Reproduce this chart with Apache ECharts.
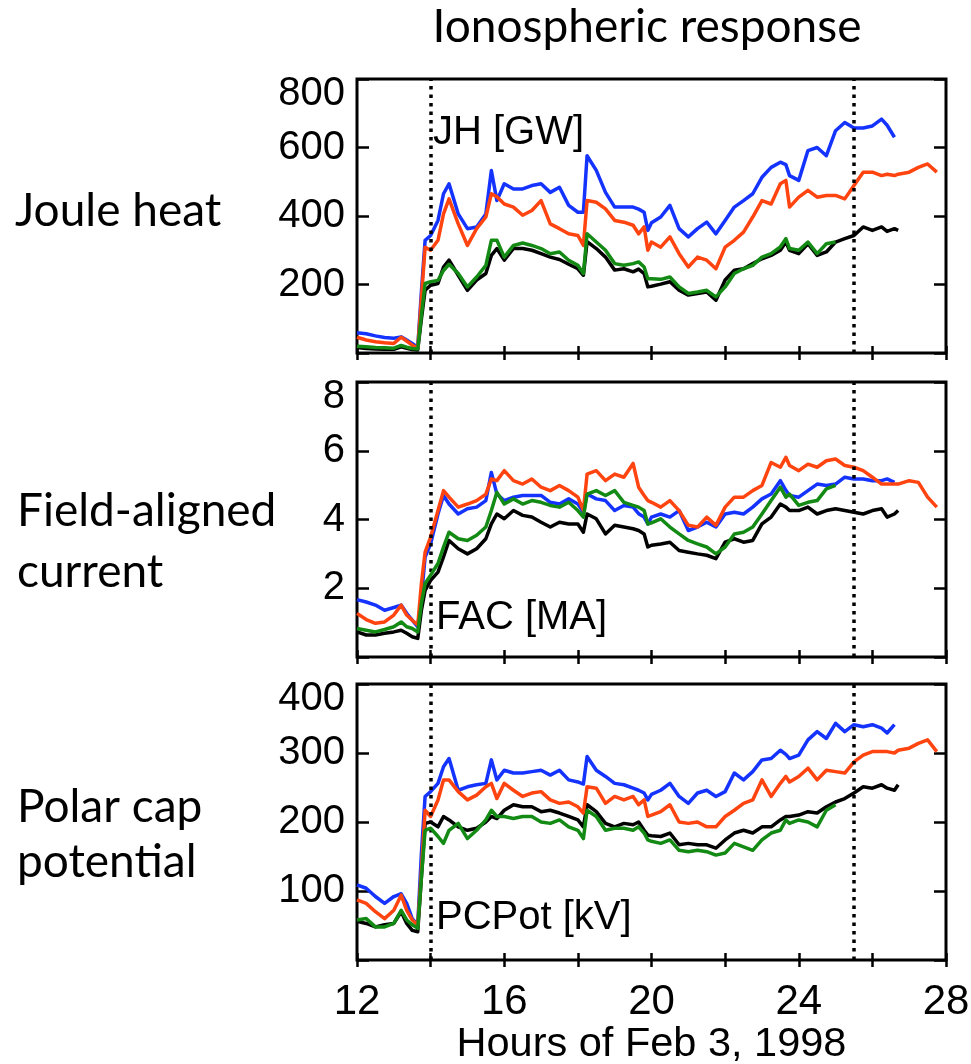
<!DOCTYPE html>
<html><head><meta charset="utf-8">
<script src="https://cdn.jsdelivr.net/npm/echarts@6/dist/echarts.min.js"></script>
<style>html,body{margin:0;padding:0;background:#fff}#c{width:971px;height:1064px}</style>
</head><body><div id="c"></div>
<script>
// Time grid (hours of Feb 3, 1998)
const T = [12,12.25,12.5,12.75,13,13.2,13.35,13.5,13.65,13.75,13.85,14,14.2,14.35,14.5,14.75,15,15.25,15.5,15.65,15.8,16,16.25,16.5,16.75,17,17.25,17.5,17.75,18,18.15,18.25,18.5,18.75,19,19.25,19.5,19.65,19.8,19.9,20,20.25,20.5,20.75,21,21.25,21.5,21.75,22,22.25,22.5,22.75,23,23.25,23.5,23.65,23.75,24,24.25,24.5,24.75,25,25.25,25.5,25.75,26,26.25,26.4,26.6,26.7,27,27.25,27.5,27.75];

// Joule heat [GW]
const jhBlue  = [59,56,50,45,43,47,38,28,16,180,329,343,387,465,494,406,363,368,406,533,445,494,479,479,489,494,469,484,431,411,411,576,533,469,426,426,426,420,411,358,380,397,431,363,339,363,382,348,387,426,445,465,513,542,557,550,518,504,591,600,576,649,673,657,657,663,683,665,630];
const jhRed   = [46,38,33,30,28,46,35,23,14,160,309,300,329,406,450,377,314,363,397,465,456,435,426,402,416,445,377,363,348,343,314,445,440,421,387,382,373,348,368,300,324,309,339,290,251,280,271,246,309,329,353,397,445,435,494,504,426,455,475,455,460,460,450,489,528,528,518,522,518,522,528,542,552,528];
const jhGreen = [20,18,16,15,14,22,17,13,12,110,203,208,212,241,259,232,193,222,256,329,329,280,314,321,314,305,290,295,271,256,232,348,324,300,261,256,261,266,251,217,217,215,222,193,174,178,183,164,193,232,246,256,280,290,310,334,305,300,324,290,319,324];
const jhBlack = [16,13,12,11,11,18,14,10,9,100,183,198,203,251,271,227,183,213,232,285,305,271,305,305,300,290,280,273,259,246,227,325,305,280,242,246,237,245,232,193,195,201,208,183,169,174,178,154,213,242,246,261,275,285,300,324,300,290,319,285,295,324,334,343,368,358,368,355,363,358];

// Field-aligned current [MA]
const facBlue  = [1.67,1.60,1.51,1.36,1.44,1.51,1.27,1.07,0.88,1.75,2.91,3.29,4.16,4.70,4.45,4.16,4.31,4.36,4.55,5.37,4.74,4.55,4.65,4.70,4.70,4.70,4.50,4.45,4.60,4.45,4.21,4.74,4.60,4.55,4.26,4.41,4.36,4.17,4.07,3.87,4.07,4.16,4.07,4.26,3.68,3.78,3.92,3.78,4.16,4.21,4.16,4.36,4.60,4.74,5.13,4.85,4.70,4.65,4.84,5.03,4.99,5.03,5.23,5.18,5.18,5.13,5.13,5.18,5.08];
const facRed   = [1.27,1.09,0.98,1.02,1.22,1.51,1.22,1.07,0.93,2.14,3.05,3.49,4.26,4.84,4.65,4.36,4.45,4.55,4.74,5.18,5.13,5.42,5.13,5.03,5.18,4.94,4.84,4.99,4.84,4.65,4.26,5.32,5.42,5.13,5.32,5.23,5.63,4.94,4.70,4.55,4.50,4.36,4.55,4.26,3.83,3.78,4.07,3.83,4.36,4.65,4.65,4.84,4.99,5.66,5.52,5.81,5.57,5.42,5.61,5.52,5.71,5.76,5.57,5.52,5.42,5.23,5.03,5.03,5.03,5.03,5.13,5.08,4.65,4.36];
const facGreen = [0.83,0.78,0.73,0.80,0.88,1.02,0.88,0.83,0.73,1.56,2.14,2.38,2.72,3.20,3.63,3.44,3.39,3.54,3.78,4.26,4.79,4.45,4.60,4.45,4.55,4.50,4.41,4.36,4.50,4.26,4.07,4.74,4.84,4.70,4.84,4.50,4.41,4.36,4.26,3.87,3.90,4.02,3.78,3.58,3.39,3.29,3.20,3.00,3.20,3.58,3.63,3.78,4.16,4.55,4.94,4.65,4.74,4.41,4.50,4.55,4.89,4.99];
const facBlack = [0.73,0.64,0.64,0.69,0.73,0.78,0.69,0.59,0.54,1.36,1.94,2.23,2.47,2.91,3.39,3.15,3.00,3.15,3.44,3.87,4.16,4.02,4.26,4.12,4.07,3.92,3.78,3.92,3.87,3.87,3.63,4.16,4.02,3.58,3.83,3.78,3.73,3.68,3.58,3.20,3.25,3.29,3.34,3.10,3.05,3.00,2.96,2.86,3.34,3.44,3.34,3.39,3.87,4.07,4.45,4.36,4.26,4.26,4.36,4.16,4.26,4.31,4.26,4.21,4.16,4.26,4.31,4.07,4.16,4.26];

// Polar cap potential [kV]
const pcBlue  = [109,104,92,82,92,96,82,60,51,155,237,244,256,280,292,246,251,254,256,290,261,275,271,271,273,275,268,275,261,258,255,295,275,266,256,254,249,246,242,232,240,246,256,237,227,242,246,237,244,271,261,273,290,292,304,298,292,297,319,331,321,343,331,341,338,341,336,329,341];
const pcRed   = [87,82,70,60,72,94,72,58,51,130,217,208,232,261,261,244,232,239,251,256,234,256,246,237,242,244,232,227,229,222,213,251,249,227,237,232,237,225,232,208,210,215,225,200,198,200,193,193,208,217,227,232,261,237,256,266,258,266,278,261,275,273,271,287,297,302,302,302,300,304,307,314,319,302];
const pcGreen = [58,60,48,48,53,72,58,51,46,120,188,191,179,169,188,198,176,188,203,217,208,208,205,208,208,200,198,203,193,188,176,217,208,188,191,191,188,193,184,174,172,169,174,159,157,159,157,152,155,169,164,159,174,184,188,203,198,203,200,193,217,225];
const pcBlack = [56,53,48,51,53,70,53,43,41,120,198,200,193,208,203,193,188,191,200,208,205,217,225,222,222,215,217,213,208,203,193,225,215,198,193,198,196,200,188,181,180,179,184,167,169,167,167,162,174,184,188,184,193,193,203,208,208,210,215,213,222,229,234,242,251,249,254,249,246,254];

const xTickLabels = [12,16,20,24,28];
const vLines = [14, 25.5];
const panelNames = ['JH [GW]','FAC [MA]','PCPot [kV]'];
const rowLabels = [['Joule heat'],['Field-aligned','current'],['Polar cap','potential']];
const yMax = [800, 8, 400];
const yStep = [200, 2, 100];

const COLORS = {black:'#000000', blue:'#1433ff', red:'#ff4410', green:'#138a13'};
const panelSeries = [
  {black:jhBlack, blue:jhBlue, red:jhRed, green:jhGreen},
  {black:facBlack, blue:facBlue, red:facRed, green:facGreen},
  {black:pcBlack, blue:pcBlue, red:pcRed, green:pcGreen}
];

const AX = 'Liberation Sans, Arial, Helvetica, sans-serif';
const TX = 'Lato, Open Sans, sans-serif';
const grids = [
  {left:357, top:79, width:589, height:274},
  {left:357, top:382, width:589, height:275},
  {left:357, top:684, width:589, height:276}
];

const xAxes = [], yAxes = [], series = [];
grids.forEach((g, i) => {
  g.show = true; g.borderColor = '#000'; g.borderWidth = 3; g.backgroundColor = 'transparent';
  g.containLabel = false; g.outerBoundsMode = 'none';
  const base = {type:'value', gridIndex:i, min:12, max:28, interval:2,
    axisLine:{show:false}, splitLine:{show:false},
    axisTick:{show:true, inside:true, length:7, lineStyle:{color:'#000', width:2.5}}};
  xAxes.push(Object.assign({}, base, {position:'bottom',
    axisLabel:{show:i===2, margin:21, color:'#000', fontFamily:AX, fontSize:42,
      formatter: v => xTickLabels.includes(v) ? String(v) : ''},
    name: i===2 ? 'Hours of Feb 3, 1998' : '', nameLocation:'middle', nameGap:51,
    nameTextStyle:{color:'#000', fontFamily:AX, fontSize:41.5}}));
  xAxes.push(Object.assign({}, base, {position:'top', axisLabel:{show:false}}));
  const m = yMax[i];
  const ybase = {type:'value', gridIndex:i, min:0, max:m, interval:yStep[i],
    axisLine:{show:false}, splitLine:{show:false},
    axisTick:{show:true, inside:true, length:12, lineStyle:{color:'#000', width:2.5}}};
  yAxes.push(Object.assign({}, ybase, {position:'left',
    axisLabel:{show:true, margin:12, formatter: v => v===0 ? '' : (v===m ? '{t|'+v+'}' : '{n|'+v+'}'),
      rich:{t:{fontSize:40, fontFamily:AX, color:'#000', padding:[30,0,0,0]},
            n:{fontSize:40, fontFamily:AX, color:'#000'}}}}));
  yAxes.push(Object.assign({}, ybase, {position:'right', axisLabel:{show:false}}));
  const ps = panelSeries[i];
  ['black','blue','red','green'].forEach((k, j) => {
    const s = {type:'line', xAxisIndex:2*i, yAxisIndex:2*i, showSymbol:false, symbol:'none',
      data: ps[k].map((v, n) => [T[n], v]), lineStyle:{color:COLORS[k], width:3.5, join:'round'}, itemStyle:{color:COLORS[k]},
      animation:false, z:2+j};
    if (j === 3) {
      s.markLine = {silent:true, symbol:['none','none'], label:{show:false},
        lineStyle:{type:[3.5,5], color:'#000', width:3.5}, data: vLines.map(x => ({xAxis:x}))};
    }
    series.push(s);
  });
});

const graphics = [
  {type:'text', style:{text:'Ionospheric response', x:647, y:27, textAlign:'center', textVerticalAlign:'middle', font:'46px '+TX, fill:'#000'}},
  {type:'text', style:{text:panelNames[0], x:433, y:133, textAlign:'left', textVerticalAlign:'middle', font:'40px '+AX, fill:'#000'}},
  {type:'text', style:{text:panelNames[1], x:436, y:618, textAlign:'left', textVerticalAlign:'middle', font:'40px '+AX, fill:'#000'}},
  {type:'text', style:{text:panelNames[2], x:436, y:918, textAlign:'left', textVerticalAlign:'middle', font:'40px '+AX, fill:'#000'}},
  {type:'text', style:{text:rowLabels[0][0], x:15, y:211, textAlign:'left', textVerticalAlign:'middle', font:'46px '+TX, fill:'#000'}},
  {type:'text', style:{text:rowLabels[1][0], x:17, y:511, textAlign:'left', textVerticalAlign:'middle', font:'46px '+TX, fill:'#000'}},
  {type:'text', style:{text:rowLabels[1][1], x:17, y:572, textAlign:'left', textVerticalAlign:'middle', font:'46px '+TX, fill:'#000'}},
  {type:'text', style:{text:rowLabels[2][0], x:17, y:807, textAlign:'left', textVerticalAlign:'middle', font:'46px '+TX, fill:'#000'}},
  {type:'text', style:{text:rowLabels[2][1], x:17, y:862, textAlign:'left', textVerticalAlign:'middle', font:'46px '+TX, fill:'#000'}}
];

const chart = echarts.init(document.getElementById('c'), null, {renderer:'canvas'});
chart.setOption({animation:false, backgroundColor:'#fff', grid:grids, xAxis:xAxes, yAxis:yAxes, series:series, graphic:graphics});
</script></body></html>
